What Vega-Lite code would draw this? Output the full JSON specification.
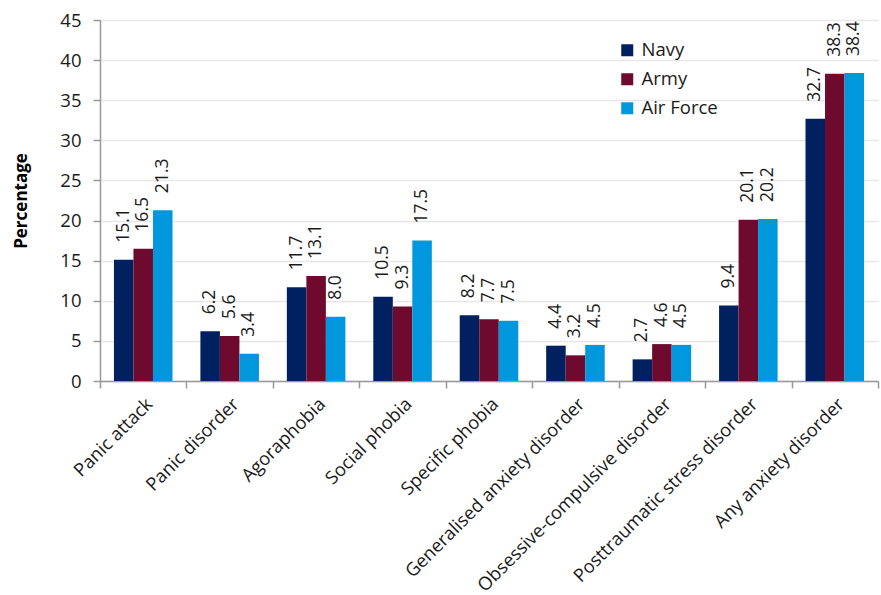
{
  "$schema": "https://vega.github.io/schema/vega-lite/v6.json",
  "width": 778,
  "height": 361,
  "autosize": {"type": "none"},
  "padding": {"left": 100, "top": 20, "right": 3, "bottom": 214},
  "background": "white",
  "config": {"font": "Open Sans", "view": {"stroke": null}},
  "data": {
    "values": [
      {"category": "Panic attack", "branch": "Navy", "value": 15.1},
      {"category": "Panic attack", "branch": "Army", "value": 16.5},
      {"category": "Panic attack", "branch": "Air Force", "value": 21.3},
      {"category": "Panic disorder", "branch": "Navy", "value": 6.2},
      {"category": "Panic disorder", "branch": "Army", "value": 5.6},
      {"category": "Panic disorder", "branch": "Air Force", "value": 3.4},
      {"category": "Agoraphobia", "branch": "Navy", "value": 11.7},
      {"category": "Agoraphobia", "branch": "Army", "value": 13.1},
      {"category": "Agoraphobia", "branch": "Air Force", "value": 8.0},
      {"category": "Social phobia", "branch": "Navy", "value": 10.5},
      {"category": "Social phobia", "branch": "Army", "value": 9.3},
      {"category": "Social phobia", "branch": "Air Force", "value": 17.5},
      {"category": "Specific phobia", "branch": "Navy", "value": 8.2},
      {"category": "Specific phobia", "branch": "Army", "value": 7.7},
      {"category": "Specific phobia", "branch": "Air Force", "value": 7.5},
      {"category": "Generalised anxiety disorder", "branch": "Navy", "value": 4.4},
      {"category": "Generalised anxiety disorder", "branch": "Army", "value": 3.2},
      {"category": "Generalised anxiety disorder", "branch": "Air Force", "value": 4.5},
      {"category": "Obsessive-compulsive disorder", "branch": "Navy", "value": 2.7},
      {"category": "Obsessive-compulsive disorder", "branch": "Army", "value": 4.6},
      {"category": "Obsessive-compulsive disorder", "branch": "Air Force", "value": 4.5},
      {"category": "Posttraumatic stress disorder", "branch": "Navy", "value": 9.4},
      {"category": "Posttraumatic stress disorder", "branch": "Army", "value": 20.1},
      {"category": "Posttraumatic stress disorder", "branch": "Air Force", "value": 20.2},
      {"category": "Any anxiety disorder", "branch": "Navy", "value": 32.7},
      {"category": "Any anxiety disorder", "branch": "Army", "value": 38.3},
      {"category": "Any anxiety disorder", "branch": "Air Force", "value": 38.4}
    ]
  },
  "encoding": {
    "x": {
      "field": "category",
      "type": "nominal",
      "sort": null,
      "scale": {"paddingInner": 0, "paddingOuter": 0},
      "axis": {
        "title": null,
        "labelAngle": -45,
        "labelAlign": "right",
        "labelBaseline": "top",
        "labelFontSize": 18.3,
        "labelColor": "#1a1a1a",
        "labelPadding": 7,
        "domainColor": "#999999",
        "domainWidth": 1.5,
        "tickColor": "#999999",
        "tickWidth": 1.5,
        "tickSize": 7,
        "tickBand": "extent",
        "grid": false,
        "labelLimit": 400
      }
    },
    "xOffset": {
      "field": "branch",
      "sort": ["Navy", "Army", "Air Force"],
      "scale": {"paddingInner": 0, "paddingOuter": 0.715}
    },
    "y": {
      "field": "value",
      "type": "quantitative",
      "scale": {"domain": [0, 45]},
      "axis": {
        "title": "Percentage",
        "titleFontSize": 17,
        "titleFontWeight": "bold",
        "titleColor": "#000000",
        "titlePadding": 29,
        "values": [0, 5, 10, 15, 20, 25, 30, 35, 40, 45],
        "labelFontSize": 18.5,
        "labelColor": "#1a1a1a",
        "labelPadding": 12,
        "domainColor": "#999999",
        "domainWidth": 1.5,
        "tickColor": "#999999",
        "tickWidth": 1.5,
        "tickSize": 7,
        "gridColor": "#e8e8e8",
        "gridWidth": 1.5
      }
    }
  },
  "layer": [
    {
      "mark": {"type": "bar"},
      "encoding": {
        "color": {
          "field": "branch",
          "type": "nominal",
          "scale": {"domain": ["Navy", "Army", "Air Force"], "range": ["#002060", "#6e0a2e", "#0097dd"]},
          "legend": {
            "title": null,
            "orient": "none",
            "legendX": 518,
            "legendY": 21,
            "symbolType": "square",
            "symbolSize": 144,
            "symbolStrokeWidth": 0,
            "labelFontSize": 18.5,
            "labelColor": "#1a1a1a",
            "labelOffset": 5,
            "rowPadding": 10
          }
        }
      }
    },
    {
      "mark": {"type": "text", "angle": 270, "align": "left", "baseline": "middle", "dx": 17, "fontSize": 17.5, "color": "#1a1a1a"},
      "encoding": {"text": {"field": "value", "type": "quantitative", "format": ".1f"}}
    }
  ]
}
